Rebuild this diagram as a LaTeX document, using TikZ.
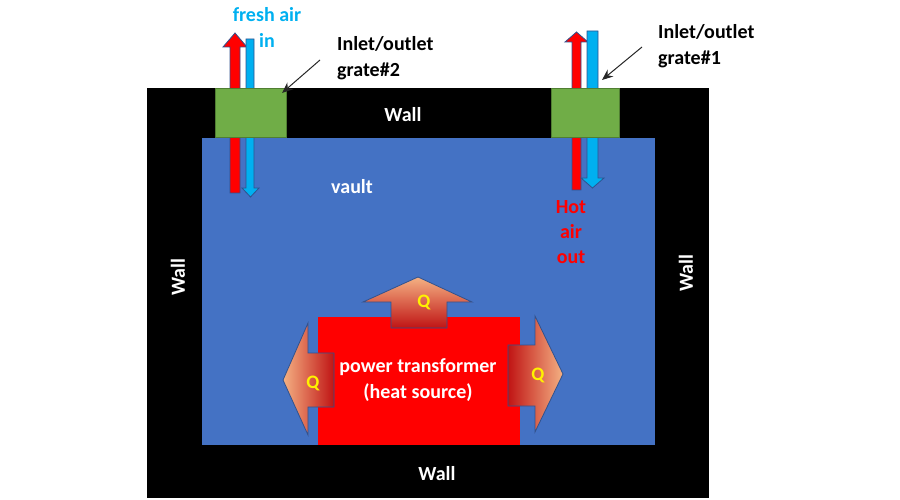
\documentclass[tikz,border=0pt]{standalone}
\usepackage{fontspec}
\setmainfont{Carlito}
\usetikzlibrary{arrows.meta}
\definecolor{vaultblue}{RGB}{68,114,196}
\definecolor{grategreen}{RGB}{112,173,71}
\definecolor{grateedge}{RGB}{80,126,50}
\definecolor{outl}{RGB}{47,82,143}
\definecolor{freshblue}{RGB}{0,176,240}
\definecolor{qdark}{RGB}{192,20,20}
\definecolor{qlight}{RGB}{244,177,131}
\tikzset{
  lbl/.style={font=\fontsize{20}{26}\selectfont\bfseries, inner sep=0pt, align=center},
  wlbl/.style={lbl, text=white},
  qlbl/.style={font=\fontsize{19}{22}\selectfont\bfseries, text=yellow, inner sep=0pt},
  airarrow/.style={draw=outl, line width=0.8pt},
  qarrow/.style={draw=outl, line width=0.8pt},
  leader/.style={draw=black!85, line width=1pt, -{Stealth[length=11pt,width=9pt]}},
  grate/.style={fill=grategreen, draw=grateedge, line width=0.8pt}
}
\begin{document}
\begin{tikzpicture}[x=1pt,y=-1pt]
\useasboundingbox (0,0) rectangle (900,500);
% walls and vault
\fill[black] (147,88) rectangle (709,498);
\fill[vaultblue] (202,138) rectangle (655,445);
% air arrows grate 2
\draw[airarrow, fill=red] (230,193) -- (230,47) -- (223,47) -- (235,33) -- (247,47) -- (240,47) -- (240,193) -- cycle;
\draw[airarrow, fill=freshblue] (246,39) -- (254,39) -- (254,188) -- (259,188) -- (250.5,197) -- (242,188) -- (246,188) -- cycle;
% air arrows grate 1
\draw[airarrow, fill=red] (572,190) -- (572,42) -- (565,42) -- (576.5,32) -- (588,42) -- (581,42) -- (581,190) -- cycle;
\draw[airarrow, fill=freshblue] (587,31) -- (598,31) -- (598,178) -- (604,178) -- (592.5,188) -- (581,178) -- (587,178) -- cycle;
% grates
\draw[grate] (215,88) rectangle (286,137);
\draw[grate] (551,88) rectangle (619,137);
% transformer
\fill[red] (318,317) rectangle (520,445);
% heat arrows
\draw[qarrow, bottom color=qdark, top color=qlight] (391,328) -- (391,302) -- (363,302) -- (418,277) -- (472,302) -- (447,302) -- (447,328) -- cycle;
\draw[qarrow, left color=qlight, right color=qdark] (334,353) -- (308,353) -- (308,323) -- (283,380) -- (308,435) -- (308,407) -- (334,407) -- cycle;
\draw[qarrow, left color=qdark, right color=qlight] (508,345) -- (535,345) -- (535,316) -- (563,374) -- (535,432) -- (535,406) -- (508,406) -- cycle;
% texts
\node[wlbl] (walltop) at (403,115) {Wall};
\node[wlbl] (wallbot) at (437,474) {Wall};
\node[wlbl, rotate=90] (wallleft) at (178,277) {Wall};
\node[wlbl, rotate=90] (wallright) at (686,273) {Wall};
\node[wlbl] (vault) at (352,187) {vault};
\node[wlbl] (pt) at (418,380) {power transformer\\(heat source)};
\node[qlbl] (qup) at (424,302) {Q};
\node[qlbl] (qleft) at (313,383) {Q};
\node[qlbl] (qright) at (538,375) {Q};
\node[lbl, text=freshblue] (fresh) at (267,27) {fresh air\\in};
\node[lbl, text=red, font=\fontsize{20}{25}\selectfont\bfseries] (hot) at (571,232) {Hot\\air\\out};
\node[lbl, anchor=west, align=left] (g2) at (337,58) {Inlet/outlet\\grate\#2};
\node[lbl, anchor=west, align=left] (g1) at (658,46) {Inlet/outlet\\grate\#1};
% leaders
\coordinate (g2tail) at (320,60);
\coordinate (g2tip) at (282,93);
\coordinate (g1tail) at (642,47);
\coordinate (g1tip) at (602,80);
\draw[leader] (g2tail) -- (g2tip);
\draw[leader] (g1tail) -- (g1tip);
\end{tikzpicture}
\end{document}
